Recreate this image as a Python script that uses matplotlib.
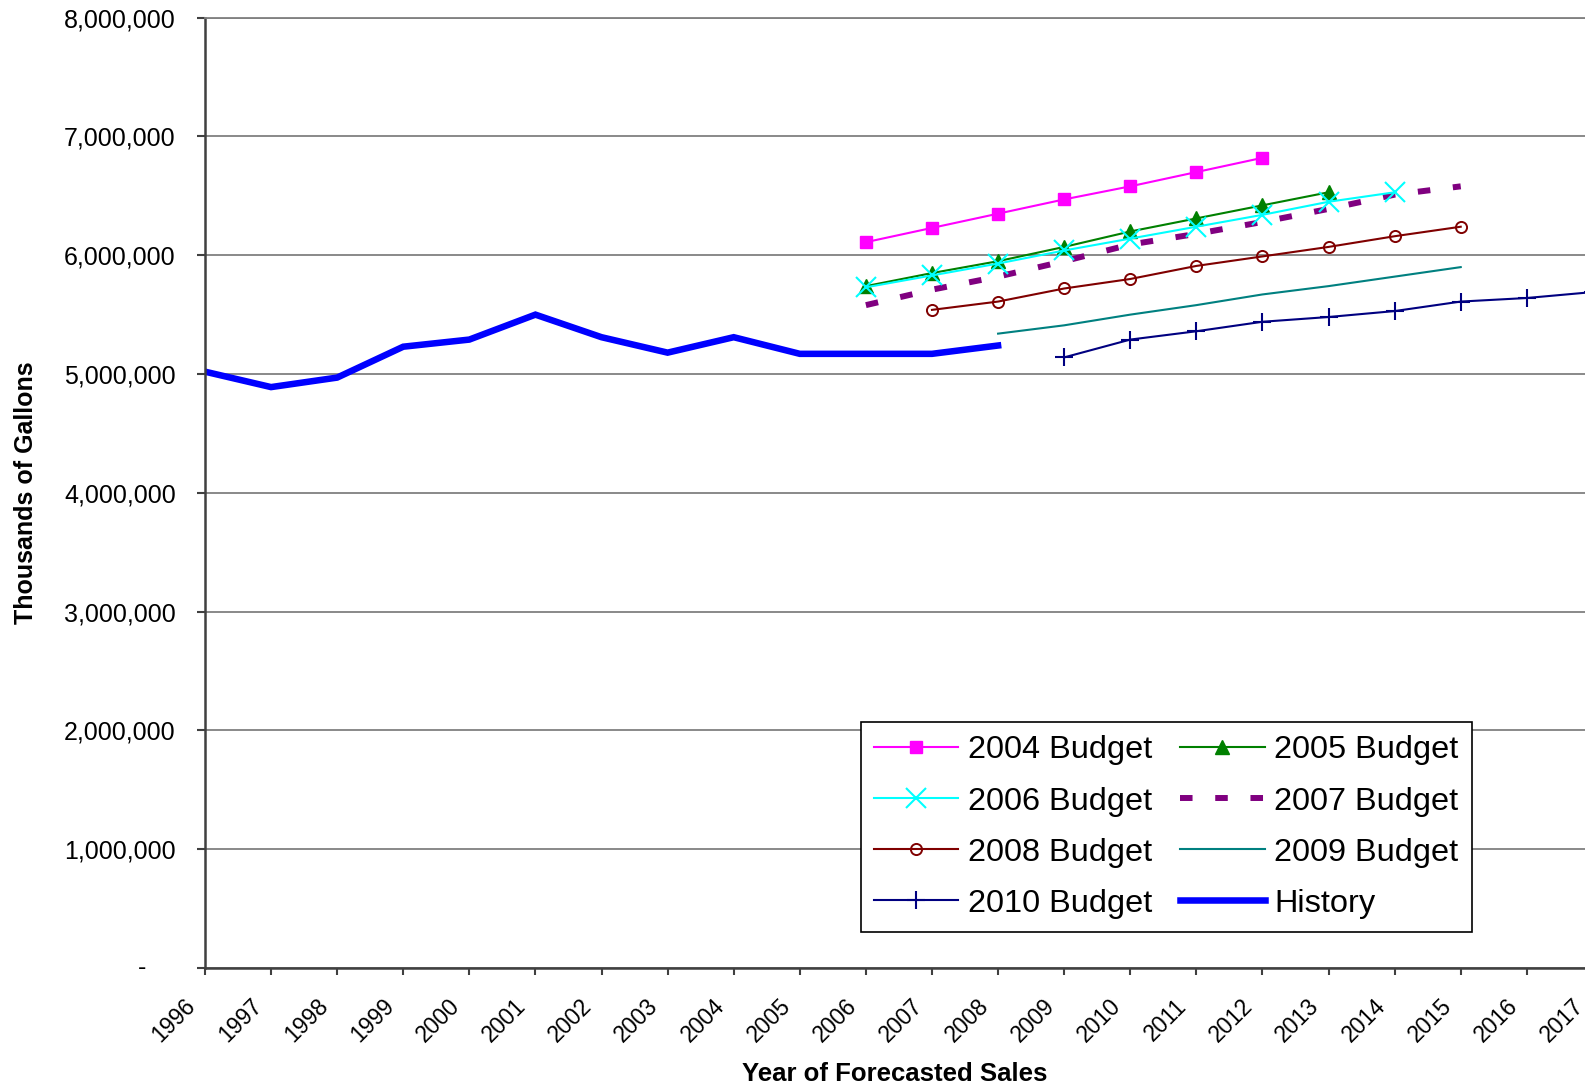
import matplotlib
matplotlib.use('Agg')
import matplotlib.pyplot as plt
import matplotlib.transforms as mtransforms
from matplotlib.ticker import FuncFormatter, MultipleLocator

plt.rcParams['font.family'] = ['Liberation Sans', 'DejaVu Sans']

# sales in thousands of gallons
hist_years = list(range(1996, 2009))
history = [5020000, 4890000, 4970000, 5230000, 5290000, 5500000, 5310000,
           5180000, 5310000, 5170000, 5170000, 5170000, 5240000]

b2004_years = list(range(2006, 2013))
b2004 = [6110000, 6230000, 6350000, 6470000, 6580000, 6700000, 6820000]

b2005_years = list(range(2006, 2014))
b2005 = [5740000, 5850000, 5950000, 6070000, 6200000, 6310000, 6420000, 6530000]

b2006_years = list(range(2006, 2015))
b2006 = [5730000, 5830000, 5930000, 6040000, 6140000, 6240000, 6340000, 6450000, 6530000]

b2007_years = list(range(2006, 2016))
b2007 = [5580000, 5710000, 5820000, 5950000, 6090000, 6180000, 6280000, 6390000, 6510000, 6580000]

b2008_years = list(range(2007, 2016))
b2008 = [5540000, 5610000, 5720000, 5800000, 5910000, 5990000, 6070000, 6160000, 6240000]

b2009_years = list(range(2008, 2016))
b2009 = [5340000, 5410000, 5500000, 5580000, 5670000, 5740000, 5820000, 5900000]

b2010_years = list(range(2009, 2018))
b2010 = [5140000, 5290000, 5360000, 5440000, 5480000, 5530000, 5610000, 5640000, 5690000]

year_ticks = list(range(1996, 2018))

fig = plt.figure(figsize=(15.85, 10.83), dpi=100)
# axes runs slightly past the right edge, like the original
ax = fig.add_axes([0.1293, 0.1062, 0.8757, 0.8775])

l04, = ax.plot(b2004_years, b2004, color='#FF00FF', lw=1.5, marker='s', ms=8, mew=1)
l05, = ax.plot(b2005_years, b2005, color='#008000', lw=1.5, marker='^', ms=10, mew=1)
l07, = ax.plot(b2007_years, b2007, color='#800080', lw=4.3, dashes=(2.1, 3.8),
               dash_capstyle='butt')
l06, = ax.plot(b2006_years, b2006, color='#00FFFF', lw=1.5, marker='x', ms=15, mew=1.5)
l08, = ax.plot(b2008_years, b2008, color='#800000', lw=1.5, marker='o', ms=8, mew=1.4,
               markerfacecolor='none')
l09, = ax.plot(b2009_years, b2009, color='#008080', lw=1.5)
l10, = ax.plot(b2010_years, b2010, color='#000080', lw=1.5, marker='+', ms=13, mew=1.5)
lh, = ax.plot(hist_years, history, color='#0000FF', lw=4.7, solid_joinstyle='miter')

ax.set_xlim(1996, 2017)
ax.set_ylim(0, 8000000)
ax.yaxis.set_major_locator(MultipleLocator(1000000))
ax.yaxis.set_major_formatter(FuncFormatter(lambda v, p: '' if v == 0 else f'{int(v):,}'))
ax.annotate('-', xy=(0, 0), xycoords=('axes fraction', 'data'), xytext=(-42, 0),
            textcoords='offset points', ha='right', va='center', fontsize=18)

ax.tick_params(axis='y', labelsize=18, pad=15, length=6, width=1.5, color='#404040')
ax.tick_params(axis='x', pad=14, length=5, width=1.5, color='#404040')

ax.set_xticks(year_ticks)
ax.set_xticklabels([str(y) for y in year_ticks], rotation=45, ha='right', va='top',
                   rotation_mode='anchor', fontsize=16.5)
# shift the slanted year labels a bit left of their ticks
offset = mtransforms.ScaledTranslation(-21 / 100, 0, fig.dpi_scale_trans)
for lab in ax.get_xticklabels():
    lab.set_transform(lab.get_transform() + offset)

ax.grid(axis='y', color='#808080', lw=1.3)
ax.set_axisbelow(True)
for side in ['left', 'bottom']:
    ax.spines[side].set_color('#404040')
    ax.spines[side].set_linewidth(1.8)
ax.spines['right'].set_visible(False)
ax.spines['top'].set_color('#808080')
ax.spines['top'].set_linewidth(1.3)

ax.set_ylabel('Thousands of Gallons', fontsize=18, fontweight='bold', labelpad=19)
ax.set_xlabel('Year of Forecasted Sales', fontsize=18.5, fontweight='bold')
ax.xaxis.set_label_coords((895 - 205) / 1388, -0.099)

handles = [l04, l06, l08, l10, l05, l07, l09, lh]
labels = ['2004 Budget', '2006 Budget', '2008 Budget', '2010 Budget',
          '2005 Budget', '2007 Budget', '2009 Budget', 'History']
leg = ax.legend(handles, labels, ncol=2, loc='lower left', bbox_to_anchor=(0.4726, 0.038),
                fontsize=23.4, frameon=True, fancybox=False, framealpha=1, edgecolor='black',
                handlelength=2.6, handletextpad=0.3, columnspacing=0.85, labelspacing=0.65,
                borderpad=0.4, numpoints=1, borderaxespad=0)
leg.get_frame().set_linewidth(1.2)

fig.savefig('out.png', dpi=100)
